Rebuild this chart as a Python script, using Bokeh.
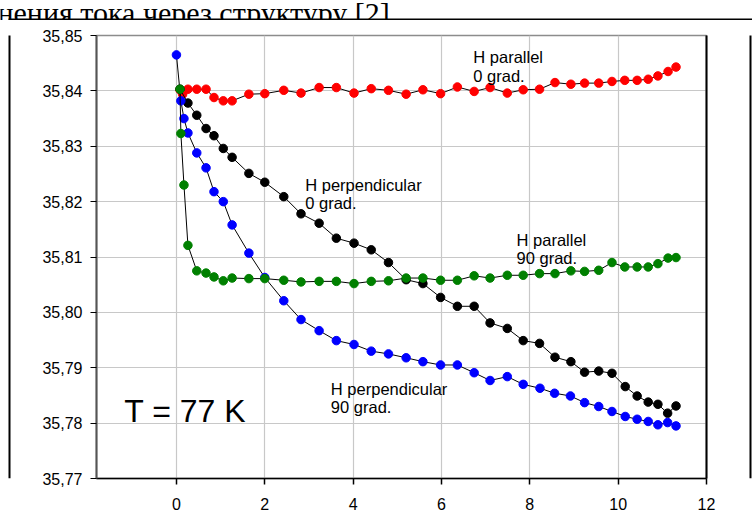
from bokeh.plotting import figure
from bokeh.layouts import column, row
from bokeh.models import Label, FixedTicker, CustomJSTickFormatter, LinearAxis, Range1d
from bokeh.core.properties import value
from bokeh.embed import file_html
from bokeh.resources import INLINE

# ---------------- data ----------------
x_ticks = [0, 2, 4, 6, 8, 10, 12]
y_ticks = [35.77, 35.78, 35.79, 35.80, 35.81, 35.82, 35.83, 35.84, 35.85]

red_x = [0.08, 0.14, 0.26, 0.46, 0.67, 0.85, 1.06, 1.26, 1.64, 2.00, 2.43, 2.82,
         3.23, 3.62, 4.02, 4.41, 4.80, 5.20, 5.58, 5.98, 6.36, 6.74, 7.10, 7.49,
         7.85, 8.22, 8.57, 8.93, 9.24, 9.56, 9.86, 10.15, 10.43, 10.68, 10.90,
         11.13, 11.31]
red_y = [35.8402, 35.8394, 35.8403, 35.8403, 35.8403, 35.8388, 35.8382, 35.8382,
         35.8394, 35.8395, 35.8401, 35.8396, 35.8406, 35.8406, 35.8396, 35.8404,
         35.8401, 35.8394, 35.8402, 35.8395, 35.8407, 35.8399, 35.8406, 35.8396,
         35.8402, 35.8403, 35.8415, 35.8412, 35.8414, 35.8414, 35.8417, 35.8419,
         35.8419, 35.8421, 35.8427, 35.8435, 35.8443]

black_x = [0.08, 0.26, 0.46, 0.67, 0.85, 1.06, 1.26, 1.64, 2.00, 2.43, 2.82,
           3.23, 3.62, 4.02, 4.41, 4.80, 5.20, 5.58, 5.98, 6.36, 6.74, 7.10,
           7.49, 7.85, 8.22, 8.57, 8.93, 9.24, 9.56, 9.86, 10.16, 10.43, 10.68,
           10.90, 11.12, 11.31]
black_y = [35.8403, 35.8378, 35.8356, 35.8332, 35.8319, 35.8296, 35.8280,
           35.8251, 35.8235, 35.8209, 35.8178, 35.8161, 35.8134, 35.8125,
           35.8113, 35.8090, 35.8059, 35.8052, 35.8027, 35.8011, 35.8011,
           35.7981, 35.7971, 35.7949, 35.7944, 35.7919, 35.7911, 35.7892,
           35.7894, 35.7890, 35.7866, 35.7849, 35.7838, 35.7834, 35.7818,
           35.7831]

blue_x = [0.00, 0.10, 0.17, 0.26, 0.46, 0.67, 0.85, 1.06, 1.26, 1.64, 2.00,
          2.43, 2.82, 3.23, 3.62, 4.02, 4.41, 4.80, 5.20, 5.58, 5.98, 6.36,
          6.74, 7.10, 7.49, 7.85, 8.23, 8.56, 8.92, 9.24, 9.56, 9.86, 10.16,
          10.43, 10.68, 10.90, 11.12, 11.31]
blue_y = [35.8465, 35.8382, 35.8350, 35.8324, 35.8288, 35.8261, 35.8218,
          35.8200, 35.8158, 35.8107, 35.8063, 35.8021, 35.7987, 35.7967,
          35.7949, 35.7942, 35.7930, 35.7925, 35.7918, 35.7911, 35.7905,
          35.7905, 35.7891, 35.7877, 35.7884, 35.7870, 35.7863, 35.7854,
          35.7849, 35.7837, 35.7830, 35.7821, 35.7812, 35.7807, 35.7803,
          35.7797, 35.7801, 35.7795]

green_x = [0.08, 0.10, 0.17, 0.26, 0.46, 0.67, 0.85, 1.06, 1.26, 1.64, 2.00,
           2.43, 2.82, 3.23, 3.62, 4.02, 4.41, 4.80, 5.20, 5.58, 5.98, 6.36,
           6.74, 7.10, 7.49, 7.85, 8.22, 8.57, 8.93, 9.24, 9.56, 9.86, 10.15,
           10.43, 10.68, 10.90, 11.13, 11.31]
green_y = [35.8403, 35.8323, 35.8230, 35.8121, 35.8075, 35.8071, 35.8064,
           35.8057, 35.8062, 35.8061, 35.8061, 35.8058, 35.8055, 35.8056,
           35.8056, 35.8052, 35.8056, 35.8057, 35.8062, 35.8062, 35.8058,
           35.8058, 35.8066, 35.8062, 35.8067, 35.8067, 35.8070, 35.8070,
           35.8075, 35.8074, 35.8076, 35.8090, 35.8082, 35.8082, 35.8082,
           35.8088, 35.8098, 35.8099]

temperature_label = "T = 77 K"
heading_text = "нения тока через структуру [2]."

FONT = "Liberation Sans"


def strip(w, h, xr, yr):
    f = figure(width=w, height=h, x_range=xr, y_range=yr,
               output_backend="svg", toolbar_location=None,
               x_axis_location=None, y_axis_location=None,
               min_border=0, min_border_left=0, min_border_right=0,
               min_border_top=0, min_border_bottom=0)
    f.grid.visible = False
    f.outline_line_color = None
    f.background_fill_color = "white"
    f.border_fill_color = "white"
    return f


# ---------------- top strip: heading (cut at top) + top frame line ----------------
top = strip(752, 20, Range1d(0, 752), Range1d(20, 0))
top.text(x=[-3], y=[12], text=[heading_text], text_font=value("Liberation Serif"),
         text_font_size="30px", text_color="black", text_baseline="alphabetic",
         text_align="left")
top.segment(x0=[8], y0=[19], x1=[752], y1=[19], line_color="black", line_width=2)

# ---------------- left / right frame strips ----------------
left = strip(11, 504, Range1d(0, 11), Range1d(0, 504))
left.segment(x0=[9], y0=[0], x1=[9], y1=[505], line_color="black", line_width=2)
right = strip(4, 504, Range1d(0, 4), Range1d(0, 504))
right.segment(x0=[2], y0=[0], x1=[2], y1=[505], line_color="black", line_width=2)

# ---------------- main chart ----------------
p = figure(width=737, height=504, x_range=(-1.81, 12), y_range=(35.77, 35.85),
           output_backend="svg", toolbar_location=None,
           min_border_left=85, min_border_right=42, min_border_top=15,
           min_border_bottom=46)
p.background_fill_color = "white"
p.border_fill_color = "white"
p.outline_line_color = "#8c8c8c"
p.outline_line_width = 1.5

xa = p.xaxis[0]
xa.ticker = FixedTicker(ticks=x_ticks)
xa.axis_line_color = "black"
xa.axis_line_width = 1.5
xa.major_tick_line_color = "black"
xa.major_tick_line_width = 1.5
xa.major_tick_out = 6
xa.major_tick_in = 0
xa.minor_tick_line_color = None
xa.major_label_text_font = FONT
xa.major_label_text_font_size = "16px"
xa.major_label_text_color = "black"
xa.major_label_standoff = 13

ya = p.yaxis[0]
ya.ticker = FixedTicker(ticks=y_ticks)
ya.formatter = CustomJSTickFormatter(code="return tick.toFixed(2).replace('.', ',');")
ya.axis_line_color = "#555555"
ya.axis_line_width = 2
ya.major_tick_line_color = "black"
ya.major_tick_line_width = 1.2
ya.major_tick_out = 6
ya.major_tick_in = 0
ya.minor_tick_line_color = None
ya.major_label_text_font = FONT
ya.major_label_text_font_size = "16px"
ya.major_label_text_color = "black"
ya.major_label_standoff = 8

ra = LinearAxis(ticker=FixedTicker(ticks=[]), major_label_text_font_size="0px",
                axis_line_color="black", axis_line_width=2,
                major_tick_line_color=None, minor_tick_line_color=None)
p.add_layout(ra, "right")

p.xgrid.ticker = FixedTicker(ticks=x_ticks[:-1])
p.ygrid.ticker = FixedTicker(ticks=y_ticks)
p.grid.grid_line_color = "#c8c8c8"
p.grid.grid_line_width = 1.2

for xs, ys, col in [(red_x, red_y, "#ff0000"), (black_x, black_y, "black"),
                    (blue_x, blue_y, "#0000ff"), (green_x, green_y, "#008000")]:
    p.line(xs, ys, line_color="black", line_width=1)
    p.scatter(xs, ys, size=8.5, fill_color=col, line_color=col)


def lab(x, y, t, size="16.5px"):
    p.add_layout(Label(x=x, y=y, text=t, text_font=FONT, text_font_size=size,
                       text_color="black", text_baseline="alphabetic",
                       text_align="left"))


lab(6.72, 35.84616, "H parallel")
lab(6.72, 35.84273, "0 grad.")
lab(2.915, 35.82300, "H perpendicular")
lab(2.915, 35.81968, "0 grad.")
lab(7.70, 35.81307, "H parallel")
lab(7.70, 35.80975, "90 grad.")
lab(3.496, 35.78617, "H perpendicular")
lab(3.496, 35.78285, "90 grad.")
lab(-1.18, 35.78213, temperature_label, size="32px")

layout = column(top, row(left, p, right, spacing=0), spacing=0)
open("out.html", "w").write(file_html(layout, INLINE))
